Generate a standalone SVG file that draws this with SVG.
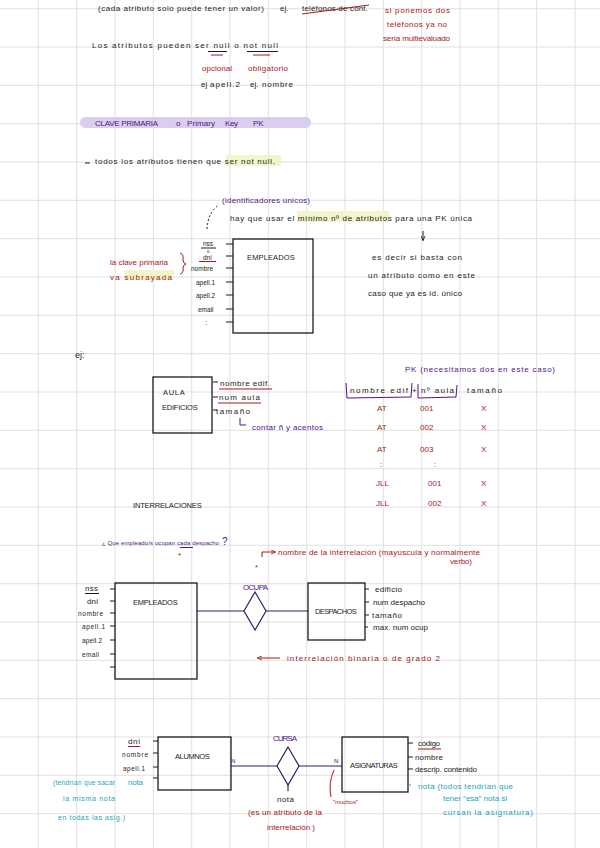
<svg xmlns="http://www.w3.org/2000/svg" width="600" height="848" viewBox="0 0 600 848">
<defs>
<style>
text{font-family:"Liberation Sans","DejaVu Sans",sans-serif;font-size:8px}
.k{fill:#1c1c1c}.r{fill:#a3191c}.p{fill:#4d1785}.c{fill:#1aa5b8}
.cap{font-size:7.5px;letter-spacing:0.3px}
.sm{font-size:6px}
.at{font-size:6.5px}
.box{fill:none;stroke:#1c1c1c;stroke-width:1.3}
.tick{stroke:#1c1c1c;stroke-width:1}
.ln{stroke:#3a1d5e;stroke-width:1.2;fill:none}
.rl{stroke:#a3191c;stroke-width:1;fill:none}
.pl{stroke:#4d1785;stroke-width:1;fill:none}
.hl{fill:#f2f5c9}
.grid{stroke:#e0e0e0;stroke-width:1;fill:none}
</style>
<marker id="ah" viewBox="0 0 6 6" refX="5" refY="3" markerWidth="5" markerHeight="5" orient="auto">
<path d="M0,0.5 L6,3 L0,5.5" fill="none" stroke="#a3191c" stroke-width="1"/>
</marker>
<marker id="ahk" viewBox="0 0 6 6" refX="5" refY="3" markerWidth="5" markerHeight="5" orient="auto">
<path d="M0,0.5 L6,3 L0,5.5" fill="none" stroke="#1c1c1c" stroke-width="1"/>
</marker>
</defs>
<rect width="600" height="848" fill="#ffffff"/>
<g id="grid" class="grid">
<path d="M38.3,0V848M76.7,0V848M115,0V848M153.3,0V848M191.7,0V848M230,0V848M268.3,0V848M306.7,0V848M345,0V848M383.3,0V848M421.7,0V848M460,0V848M498.3,0V848M536.7,0V848M575,0V848"/>
<path d="M0,8.7H600M0,47H600M0,85.3H600M0,123.7H600M0,162H600M0,200.3H600M0,238.7H600M0,277H600M0,315.3H600M0,353.7H600M0,392H600M0,430.3H600M0,468.7H600M0,507H600M0,545.3H600M0,583.7H600M0,622H600M0,660.3H600M0,698.7H600M0,737H600M0,775.3H600M0,813.7H600"/>
</g>

<g id="notes-top">
<text class="k" x="98" y="11" textLength="166">(cada atributo solo puede tener un valor)</text>
<text class="k" x="280" y="11">ej.</text>
<text class="k" x="302" y="11" textLength="66">teléfonos de cont.</text>
<path class="rl" d="M302,14 L369,5"/>
<text class="r" x="385" y="13" textLength="65">si ponemos dos</text>
<text class="r" x="387" y="27" textLength="60">teléfonos ya no</text>
<text class="r" x="383" y="41" textLength="67">sería multievaluado</text>
<text class="k" x="92" y="48" textLength="186">Los atributos pueden ser null o not null</text>
<path class="tick" d="M208,51.5H227M247,51.5H278"/>
<path class="rl" d="M211,55H223M253,55H270"/>
<text class="r" x="202" y="71" textLength="30">opcional</text>
<text class="r" x="248" y="71" textLength="40">obligatorio</text>
<text class="k" x="201" y="87">ej</text>
<text class="k" x="210" y="87" textLength="30">apell.2</text>
<text class="k" x="250" y="87">ej.</text>
<text class="k" x="262" y="87" textLength="31">nombre</text>
</g>

<g id="clave-primaria">
<rect x="80" y="117" width="231" height="11" rx="5.5" fill="#dacdee"/>
<text class="p" x="95" y="126" textLength="63">CLAVE PRIMARIA</text>
<text class="p" x="176" y="126">o</text>
<text class="p" x="187" y="126" textLength="28">Primary</text>
<text class="p" x="225" y="126" textLength="13">Key</text>
<text class="p" x="253" y="126">PK</text>
<path class="tick" d="M85,163H90"/>
<rect class="hl" x="226" y="155" width="55" height="11"/>
<text class="k" x="95" y="164" textLength="180">todos los atributos tienen que ser not null.</text>
</g>

<g id="nota-pk">
<text class="p" x="222" y="203" textLength="88">(identificadores únicos)</text>
<path d="M207,229 Q208,212 219,205" fill="none" stroke="#1c1c1c" stroke-width="1" stroke-dasharray="2,2"/>
<rect class="hl" x="297" y="211" width="92" height="11"/>
<text class="k" x="230" y="221" textLength="242">hay que usar el mínimo nº de atributos para una PK única</text>
<path d="M423,231 V240" stroke="#1c1c1c" stroke-width="1" marker-end="url(#ahk)"/>
<text class="k" x="372" y="260" textLength="90">es decir si basta con</text>
<text class="k" x="368" y="278" textLength="107">un atributo como en este</text>
<text class="k" x="368" y="296" textLength="94">caso que ya es id. único</text>
<rect class="hl" x="124" y="270" width="50" height="10"/>
<text class="r" x="110" y="265" textLength="58">la clave primaria</text>
<text class="r" x="110" y="280" textLength="62">va subrayada</text>
<path class="rl" d="M180,253 Q184,254 183,260 Q183,263 186,264 Q183,265 183,268 Q184,273 180,274"/>
</g>

<g id="empleados-1">
<rect class="box" x="233" y="239" width="80" height="94"/>
<text class="k cap" x="247" y="260" textLength="48">EMPLEADOS</text>
<path class="tick" d="M226,244H233M226,256H233M226,268H233M226,282H233M226,295H233M226,309H233M226,322H233"/>
<text class="k at" x="203" y="245.5">nss</text>
<path class="tick" d="M201,248H216"/>
<text class="k" x="207" y="252.5" style="font-size:4.5px">o</text>
<text class="k at" x="203" y="259.5">dni</text>
<path class="rl" d="M199,261.5H216"/>
<text class="k at" x="191" y="271">nombre</text>
<text class="k at" x="196" y="285">apell.1</text>
<text class="k at" x="196" y="298">apell.2</text>
<text class="k at" x="198" y="312">email</text>
<text class="k" x="205" y="325">:</text>
</g>

<g id="ejemplo-aula">
<text class="k" x="75" y="358" style="font-size:9px">ej:</text>
<rect class="box" x="153" y="377" width="59" height="56"/>
<text class="k cap" x="163" y="395" textLength="22">AULA</text>
<text class="k cap" x="162" y="410" textLength="36">EDIFICIOS</text>
<path class="tick" d="M213,382H218M213,397H218M213,410H217"/>
<text class="k" x="220" y="386" textLength="50">nombre edif.</text>
<path class="rl" d="M219,389H272"/>
<text class="k" x="219" y="400" textLength="41">num aula</text>
<path class="rl" d="M218,403H261"/>
<text class="k" x="216" y="414" textLength="34">tamaño</text>
<path class="pl" d="M240,418 V425 H246"/>
<text class="p" x="252" y="430" textLength="71">contar ñ y acentos</text>
</g>

<g id="tabla-pk">
<text class="p" x="405" y="372" textLength="150">PK (necesitamos dos en este caso)</text>
<path class="pl" d="M346,383 L347,398 L411,397 L412,383"/>
<path class="pl" d="M418,384 L418,398 L456,397 L457,385"/>
<text class="k" x="350" y="393" textLength="58">nombre edif</text>
<text class="k" x="412" y="393">+</text>
<text class="k" x="421" y="393" textLength="33">nº aula</text>
<text class="k" x="467" y="393" textLength="35">tamaño</text>
<g class="r">
<text x="377" y="411">AT</text><text x="420" y="411">001</text><text x="481" y="411">X</text>
<text x="377" y="430">AT</text><text x="420" y="430">002</text><text x="481" y="430">X</text>
<text x="377" y="452">AT</text><text x="420" y="452">003</text><text x="481" y="452">X</text>
<text x="380" y="467">:</text><text x="434" y="467">:</text>
<text x="376" y="486">JLL</text><text x="428" y="486">001</text><text x="481" y="486">X</text>
<text x="376" y="506">JLL</text><text x="428" y="506">002</text><text x="481" y="506">X</text>
</g>
</g>

<g id="interrelaciones">
<text class="k cap" x="133" y="508" textLength="69">INTERRELACIONES</text>
<text class="p" x="102" y="545" style="font-size:6px" textLength="117">¿ Que empleado/s ocupan cada despacho</text>
<text class="p" x="222" y="545" style="font-size:10px">?</text>
<path class="pl" d="M180,547.5H193"/>
<text class="r" x="178" y="558">*</text>
<path class="rl" d="M262,557 V552 H275" marker-end="url(#ah)"/>
<text class="r" x="278" y="555" textLength="202">nombre de la interrelación (mayúscula y normalmente</text>
<text class="r" x="450" y="564" textLength="22">verbo)</text>
<text class="r" x="255" y="570">*</text>
<path class="rl" d="M280,658 H258" marker-end="url(#ah)"/>
<text class="r" x="287" y="661" textLength="153">interrelación binaria o de grado 2</text>
</g>

<g id="connectors">
<path class="ln" d="M197,611 H244"/>
<path class="ln" d="M266,611 H308"/>
<path class="ln" d="M231,766 H277"/>
<path class="ln" d="M299,766 H342"/>
<path class="ln" d="M288,785 V791"/>
</g>

<g id="empleados-2">
<rect class="box" x="115" y="583" width="82" height="96"/>
<text class="k cap" x="133" y="605" textLength="45">EMPLEADOS</text>
<path class="tick" d="M110,589H115M110,601H115M110,613H115M110,626H115M110,640H115M110,654H115M110,667H115"/>
<text class="k" x="85" y="591" textLength="13">nss</text>
<path class="tick" d="M85,593.5H99"/>
<text class="k" x="87" y="604" textLength="11">dni</text>
<text class="k at" x="78" y="616" textLength="25">nombre</text>
<text class="k at" x="82" y="629" textLength="23">apell.1</text>
<text class="k at" x="82" y="643" textLength="20">apell.2</text>
<text class="k at" x="82" y="657" textLength="17">email</text>
</g>

<g id="ocupa">
<text class="p" x="243" y="590" textLength="25">OCUPA</text>
<polygon class="ln" points="255,592 266,611 255,630 244,611"/>
</g>

<g id="despachos">
<rect class="box" x="308" y="583" width="57" height="57"/>
<text class="k cap" x="315" y="614" textLength="42">DESPACHOS</text>
<path class="tick" d="M365,589H369M365,602H369M365,615H369M365,627H368"/>
<text class="k" x="375" y="592" textLength="27">edificio</text>
<text class="k" x="373" y="605" textLength="52">num despacho</text>
<text class="k" x="372" y="618" textLength="30">tamaño</text>
<text class="k" x="373" y="630" textLength="55">max. num ocup</text>
</g>

<g id="alumnos">
<rect class="box" x="158" y="737" width="73" height="53"/>
<text class="k cap" x="175" y="759" textLength="35">ALUMNOS</text>
<path class="tick" d="M153,741H158M153,753H158M153,767H158M153,778H158"/>
<text class="k" x="128" y="744" textLength="12">dni</text>
<path class="rl" d="M128,746.5H140"/>
<text class="k at" x="122" y="757" textLength="26">nombre</text>
<text class="k at" x="123" y="771" textLength="22">apell.1</text>
<text class="c" x="128" y="785" textLength="15">nota</text>
<text class="c" x="53" y="785" style="font-size:6.5px" textLength="62">(tendrían que sacar</text>
<text class="c" x="63" y="801" style="font-size:7px" textLength="52">la misma nota</text>
<text class="c" x="58" y="820" style="font-size:7px" textLength="67">en todas las asig.)</text>
</g>

<g id="cursa">
<text class="p" x="273" y="741" textLength="24">CURSA</text>
<polygon class="ln" points="288,747 299,766 288,785 277,766"/>
<text class="k sm" x="231" y="763">N</text>
<text class="k sm" x="334" y="763">N</text>
<path class="rl" d="M334,770 Q328,783 331,797"/>
<text class="r sm" x="333" y="804" textLength="25">"muchos"</text>
<text class="k" x="277" y="802" textLength="17">nota</text>
<text class="r" x="248" y="815" textLength="74">(es un atributo de la</text>
<text class="r" x="267" y="830" textLength="48">interrelación )</text>
</g>

<g id="asignaturas">
<rect class="box" x="342" y="737" width="66" height="55"/>
<text class="k cap" x="350" y="768" textLength="48">ASIGNATURAS</text>
<path class="tick" d="M408,743H413M408,757H413M408,769H413"/>
<path d="M408,785H411" stroke="#1aa5b8" stroke-width="1"/>
<text class="k" x="418" y="746" textLength="22">código</text>
<path class="rl" d="M418,749H441"/>
<text class="k" x="415" y="760" textLength="28">nombre</text>
<text class="k" x="415" y="772" textLength="62">descrip. contenido</text>
<text class="c" x="418" y="789" textLength="95">nota (todos tendrían que</text>
<text class="c" x="443" y="801" textLength="64">tener “esa” nota si</text>
<text class="c" x="443" y="815" textLength="90">cursan la asignatura)</text>
</g>
</svg>
